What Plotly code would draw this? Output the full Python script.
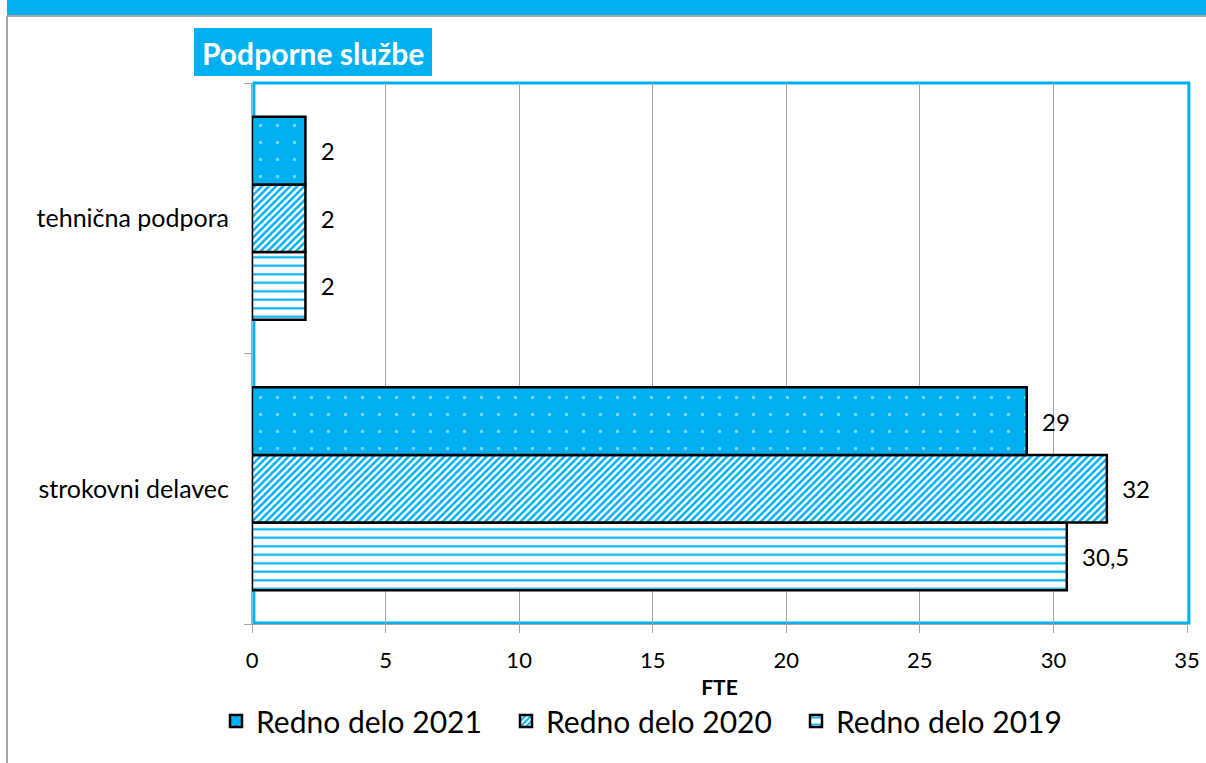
import plotly.graph_objects as go

# Data
categories = ["strokovni delavec", "tehnična podpora"]
series_names = ["Redno delo 2019", "Redno delo 2020", "Redno delo 2021"]
values_2019 = [30.5, 2]
values_2020 = [32, 2]
values_2021 = [29, 2]
x_ticks = [0, 5, 10, 15, 20, 25, 30, 35]

BLUE = "#00B0F0"
GRAY = "#A6A6A6"
FONT = "Lato"

W, H = 1206, 763
L, R, T, B = 252, 19, 83, 139
PW, PH = W - L - R, H - T - B


def px_x(px):
    return (px - L) / PW


def px_y(py):
    return (H - B - py) / PH


def fmt(v):
    s = f"{v:g}".replace(".", ",")
    return "\u00a0\u00a0" + s


patterns = {
    "Redno delo 2019": dict(shape="-", size=8.5, solidity=0.25, fgcolor=BLUE,
                            bgcolor="white", fillmode="replace"),
    "Redno delo 2020": dict(shape="/", size=5, solidity=0.5, fgcolor=BLUE,
                            bgcolor="white", fillmode="replace"),
    "Redno delo 2021": dict(shape=".", size=17, solidity=0.03, fgcolor="white",
                            fillmode="overlay"),
}

fig = go.Figure()
for name, vals in zip(series_names, [values_2019, values_2020, values_2021]):
    fig.add_trace(go.Bar(
        y=categories, x=vals, orientation="h", name=name,
        marker=dict(color=BLUE, line=dict(color="black", width=2.5),
                    pattern=patterns[name]),
        text=[fmt(v) for v in vals], textposition="outside",
        textfont=dict(family=FONT, size=24, color="black"),
        cliponaxis=False,
    ))

fig.update_layout(
    width=W, height=H, autosize=False,
    margin=dict(l=L, r=R, t=T, b=B, autoexpand=False),
    paper_bgcolor="white", plot_bgcolor="white",
    barmode="group", bargap=0.25, bargroupgap=0,
    font=dict(family=FONT, color="black"),
    showlegend=True,
    legend=dict(orientation="h", traceorder="reversed",
                x=px_x(651), xanchor="center", y=px_y(721), yanchor="middle",
                entrywidth=245,
                font=dict(family=FONT, size=30, color="black"),
                bgcolor="rgba(0,0,0,0)"),
    xaxis=dict(range=[0, 35], tickvals=x_ticks, showgrid=True,
               gridcolor=GRAY, gridwidth=1, zeroline=False, automargin=False,
               showline=True, linecolor=GRAY, linewidth=1,
               ticks="outside", ticklen=8, tickcolor=GRAY,
               ticklabelstandoff=9,
               tickfont=dict(family=FONT, size=22, color="black"),
               title=dict(text="<b>FTE</b>", standoff=7,
                          font=dict(family=FONT, size=21, color="black"))),
    yaxis=dict(type="category", categoryarray=categories,
               categoryorder="array", showgrid=False, zeroline=False,
               automargin=False,
               showline=True, linecolor=GRAY, linewidth=1,
               ticks="outside", ticklen=7, tickcolor=GRAY,
               tickson="boundaries", ticklabelstandoff=17,
               tickfont=dict(family=FONT, size=25, color="black")),
)

shapes = [
    # top band
    dict(type="rect", xref="paper", yref="paper",
         x0=px_x(7), x1=px_x(1300), y0=px_y(15), y1=px_y(-2),
         fillcolor=BLUE, line=dict(width=0), layer="above"),
    # outer frame lines
    dict(type="line", xref="paper", yref="paper",
         x0=px_x(7), x1=px_x(1300), y0=px_y(16), y1=px_y(16),
         line=dict(color=GRAY, width=2), layer="above"),
    dict(type="line", xref="paper", yref="paper",
         x0=px_x(7), x1=px_x(7), y0=px_y(16), y1=px_y(H + 2),
         line=dict(color=GRAY, width=2), layer="above"),
    # plot area border
    dict(type="rect", xref="paper", yref="paper",
         x0=0.002, x1=1.002, y0=0.002, y1=1.0,
         fillcolor="rgba(0,0,0,0)", line=dict(color=BLUE, width=3),
         layer="below"),
    # title box
    dict(type="rect", xref="paper", yref="paper",
         x0=px_x(194), x1=px_x(432), y0=px_y(76), y1=px_y(28),
         fillcolor=BLUE, line=dict(width=0), layer="above"),
]
fig.update_layout(shapes=shapes)

fig.add_annotation(
    text="<b>Podporne službe</b>", xref="paper", yref="paper",
    x=px_x(313), y=px_y(53), xanchor="center", yanchor="middle",
    showarrow=False, font=dict(family=FONT, size=30, color="white"),
)

fig.write_html("out.html")
